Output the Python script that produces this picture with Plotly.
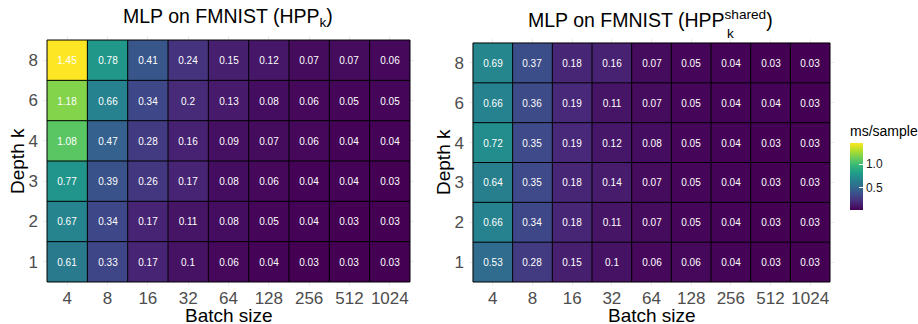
import plotly.graph_objects as go

batch_sizes = ["4", "8", "16", "32", "64", "128", "256", "512", "1024"]
depths = ["1", "2", "3", "4", "6", "8"]

# rows follow depths order (1,2,3,4,6,8)
hpp_k = [
    [0.61, 0.33, 0.17, 0.10, 0.06, 0.04, 0.03, 0.03, 0.03],
    [0.67, 0.34, 0.17, 0.11, 0.08, 0.05, 0.04, 0.03, 0.03],
    [0.77, 0.39, 0.26, 0.17, 0.08, 0.06, 0.04, 0.04, 0.03],
    [1.08, 0.47, 0.28, 0.16, 0.09, 0.07, 0.06, 0.04, 0.04],
    [1.18, 0.66, 0.34, 0.20, 0.13, 0.08, 0.06, 0.05, 0.05],
    [1.45, 0.78, 0.41, 0.24, 0.15, 0.12, 0.07, 0.07, 0.06],
]
hpp_k_shared = [
    [0.53, 0.28, 0.15, 0.10, 0.06, 0.06, 0.04, 0.03, 0.03],
    [0.66, 0.34, 0.18, 0.11, 0.07, 0.05, 0.04, 0.03, 0.03],
    [0.64, 0.35, 0.18, 0.14, 0.07, 0.05, 0.04, 0.03, 0.03],
    [0.72, 0.35, 0.19, 0.12, 0.08, 0.05, 0.04, 0.03, 0.03],
    [0.66, 0.36, 0.19, 0.11, 0.07, 0.05, 0.04, 0.04, 0.03],
    [0.69, 0.37, 0.18, 0.16, 0.07, 0.05, 0.04, 0.03, 0.03],
]
cbar_ticks = [0.5, 1.0]

W, H = 918, 324
FONT = "Liberation Sans, Arial, sans-serif"
zmin = min(min(r) for r in hpp_k + hpp_k_shared)
zmax = max(max(r) for r in hpp_k + hpp_k_shared)


def fmt(v):
    return f"{v:g}"


def px_x(p):
    return p / W


def px_y(p):
    return 1 - p / H


fig = go.Figure()

for i, (data, show) in enumerate([(hpp_k, True), (hpp_k_shared, False)]):
    sfx = "" if i == 0 else "2"
    fig.add_trace(go.Heatmap(
        x=batch_sizes, y=depths, z=data,
        text=[[fmt(v) for v in row] for row in data],
        texttemplate="%{text}",
        textfont=dict(family=FONT, size=10, color="white"),
        colorscale="Viridis", zmin=zmin, zmax=zmax,
        showscale=show,
        xaxis="x" + sfx, yaxis="y" + sfx,
        colorbar=dict(
            x=px_x(850), xanchor="left", xpad=0, ypad=0,
            y=px_y(122), yanchor="top",
            len=88, lenmode="pixels", thickness=13,
            outlinewidth=0,
            tickvals=cbar_ticks, ticktext=[f"{t:.1f}" for t in cbar_ticks],
            ticks="inside", ticklen=4, tickcolor="white",
            tickfont=dict(family=FONT, size=12, color="#1a1a1a"),
            title=dict(text="ms/sample", side="top",
                       font=dict(family=FONT, size=14, color="black")),
        ),
    ))
    # cell borders
    nx, ny = len(batch_sizes), len(depths)
    for k in range(nx + 1):
        fig.add_shape(type="line", xref="x" + sfx, yref="y" + sfx,
                      x0=k - 0.5, x1=k - 0.5, y0=-0.5, y1=ny - 0.5,
                      line=dict(color="black", width=1))
    for k in range(ny + 1):
        fig.add_shape(type="line", xref="x" + sfx, yref="y" + sfx,
                      x0=-0.5, x1=nx - 0.5, y0=k - 0.5, y1=k - 0.5,
                      line=dict(color="black", width=1))

axis_common = dict(
    type="category", showgrid=True, gridcolor="#EBEBEB", gridwidth=1,
    zeroline=False, showline=False, ticks="", automargin=False,
    tickfont=dict(family=FONT, size=17, color="#4D4D4D"),
)

nx, ny = len(batch_sizes), len(depths)
fig.update_layout(
    width=W, height=H,
    margin=dict(l=0, r=0, t=0, b=0),
    paper_bgcolor="white", plot_bgcolor="white",
    xaxis=dict(axis_common, domain=[px_x(43), px_x(414)], range=[-0.6, nx - 0.4],
               anchor="y", ticklabelstandoff=0),
    yaxis=dict(axis_common, domain=[px_y(286), px_y(36)], range=[-0.6, ny - 0.4],
               anchor="x", ticklabelstandoff=4),
    xaxis2=dict(axis_common, domain=[px_x(469), px_x(834)], range=[-0.6, nx - 0.4],
                anchor="y2", ticklabelstandoff=0),
    yaxis2=dict(axis_common, domain=[px_y(286), px_y(39)], range=[-0.6, ny - 0.4],
                anchor="x2", ticklabelstandoff=4),
)

afont = dict(family=FONT, size=19, color="black")
# axis titles
for cx in (228.5, 651.5):
    fig.add_annotation(text="Batch size", xref="paper", yref="paper",
                       x=px_x(cx), y=px_y(324), xanchor="center", yanchor="bottom",
                       borderpad=0, yshift=-3,
                       showarrow=False, font=afont)
for cx, cy in ((17, 161), (443, 162)):
    fig.add_annotation(text="Depth k", xref="paper", yref="paper", textangle=-90,
                       x=px_x(cx), y=px_y(cy), xanchor="center", yanchor="middle",
                       showarrow=False, font=afont)

tfont = dict(family=FONT, size=19.5, color="black")
fig.add_annotation(text="MLP on FMNIST (HPP<sub>k</sub>)", xref="paper", yref="paper",
                   x=px_x(228), y=px_y(17), xanchor="center", yanchor="middle",
                   showarrow=False, font=tfont)
fig.add_annotation(text="MLP on FMNIST (HPP<sup>shared</sup>)", xref="paper", yref="paper",
                   x=px_x(650.5), y=px_y(19), xanchor="center", yanchor="middle",
                   showarrow=False, font=tfont)
fig.add_annotation(text="k", xref="paper", yref="paper",
                   x=px_x(725), y=px_y(33), xanchor="left", yanchor="middle",
                   showarrow=False, font=dict(family=FONT, size=13.5, color="black"))

fig.write_html("out.html")
